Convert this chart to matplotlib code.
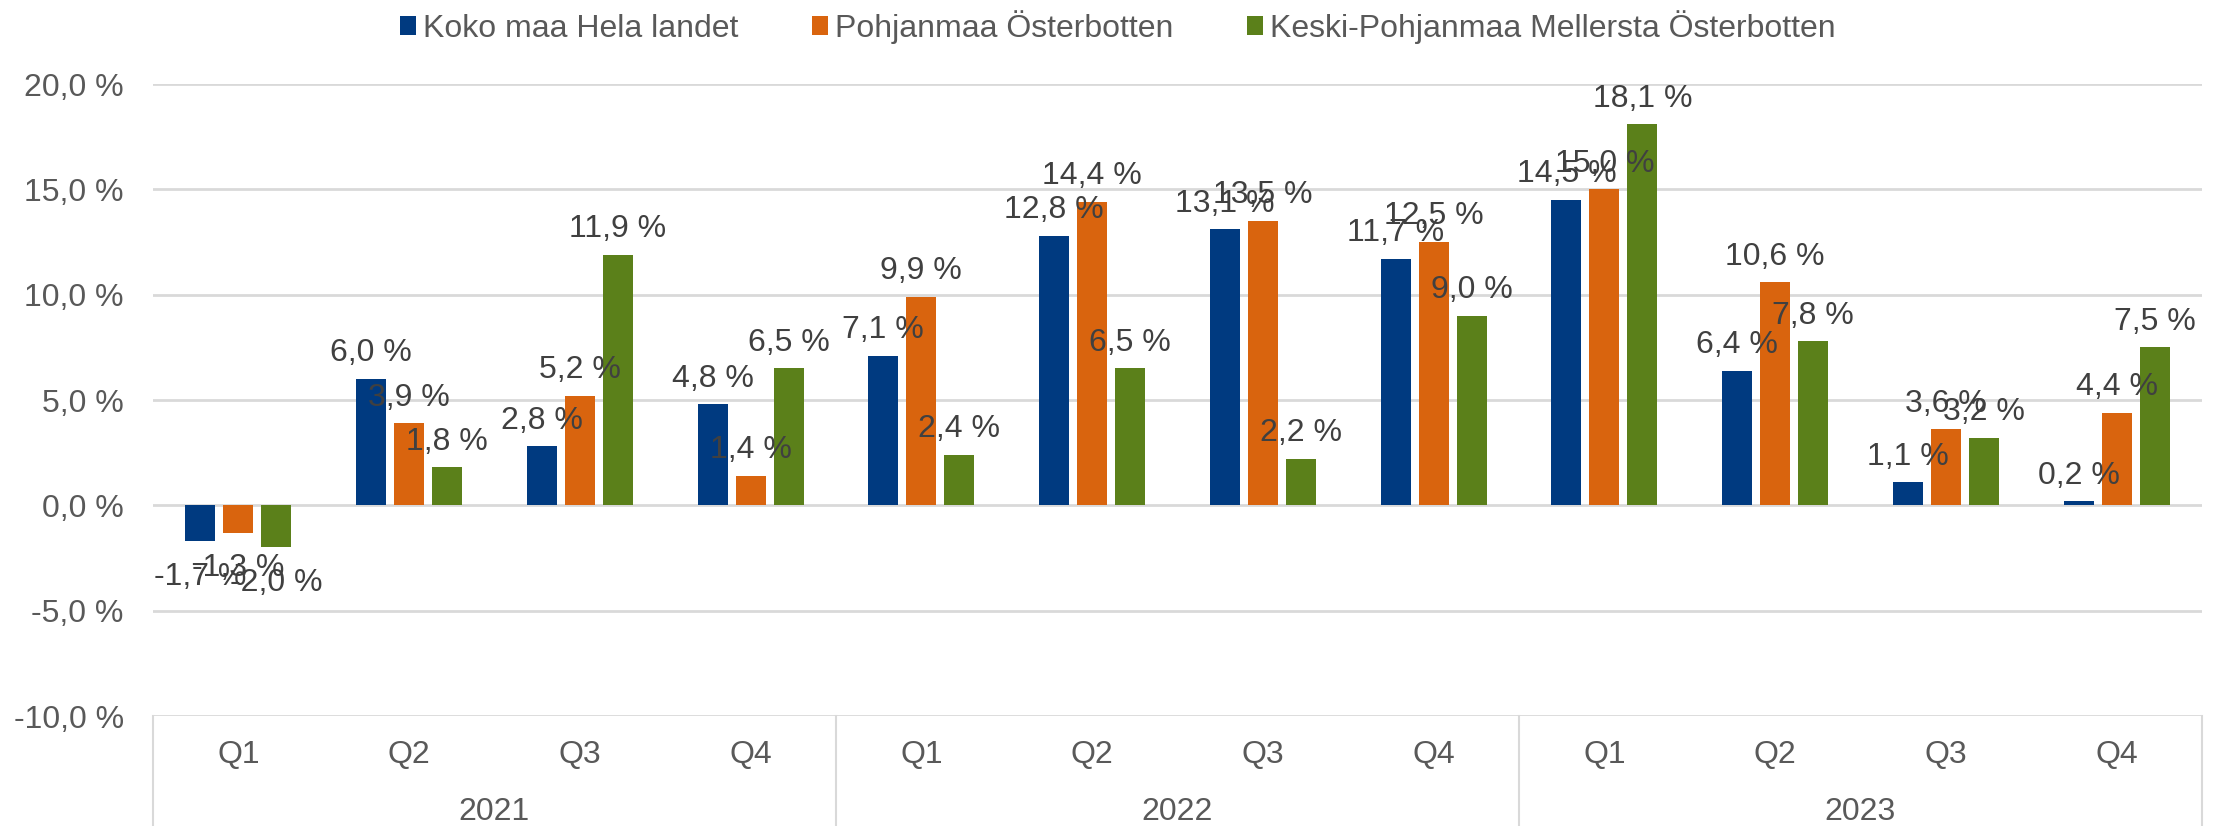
import matplotlib
matplotlib.use("Agg")
import matplotlib.pyplot as plt
import matplotlib.transforms as mtransforms
from matplotlib.patches import Patch
from matplotlib.lines import Line2D
import numpy as np

plt.rcParams['font.family'] = ['Liberation Sans', 'DejaVu Sans']

# ---- data ----
years = ["2021", "2022", "2023"]
quarters = ["Q1", "Q2", "Q3", "Q4"]
series_names = ["Koko maa Hela landet", "Pohjanmaa Österbotten",
                "Keski-Pohjanmaa Mellersta Österbotten"]
koko_maa = [-1.7, 6.0, 2.8, 4.8, 7.1, 12.8, 13.1, 11.7, 14.5, 6.4, 1.1, 0.2]
pohjanmaa = [-1.3, 3.9, 5.2, 1.4, 9.9, 14.4, 13.5, 12.5, 15.0, 10.6, 3.6, 4.4]
keski_pohjanmaa = [-2.0, 1.8, 11.9, 6.5, 2.4, 6.5, 2.2, 9.0, 18.1, 7.8, 3.2, 7.5]
y_ticks = [-10, -5, 0, 5, 10, 15, 20]

colors = ["#003A80", "#D9640E", "#5B801A"]
text_gray = "#595959"
label_gray = "#404040"
grid_gray = "#D9D9D9"

W, H = 2216, 826
fig = plt.figure(figsize=(W / 100, H / 100), dpi=100)
left, right, top, bottom = 153, 2202, 84, 716
ax = fig.add_axes([left / W, 1 - bottom / H, (right - left) / W, (bottom - top) / H])

n = len(years) * len(quarters)
x = np.arange(n)
step = 38 / 170.75
bw = 30 / 170.75
all_series = [koko_maa, pohjanmaa, keski_pohjanmaa]

for k, (vals, c) in enumerate(zip(all_series, colors)):
    xs = x + (k - 1) * step
    ax.bar(xs, vals, width=bw, color=c, zorder=3, linewidth=0)
    for xi, v in zip(xs, vals):
        lab = f"{v:.1f} %".replace(".", ",")
        if v >= 0:
            ax.annotate(lab, (xi, v), xytext=(0, 12.6), textcoords="offset points",
                        ha="center", va="baseline", fontsize=23, color=label_gray, zorder=5)
        else:
            ax.annotate(lab, (xi, v), xytext=(0, -31.5), textcoords="offset points",
                        ha="center", va="baseline", fontsize=23, color=label_gray, zorder=5)

ax.set_xlim(-0.5, n - 0.5)
ax.set_ylim(-10, 20)
ax.set_yticks(y_ticks)
ax.set_yticklabels([f"{t:.1f} %".replace(".", ",") for t in y_ticks], fontsize=23, color=text_gray)
ax.tick_params(axis="y", length=0, pad=21)
ax.set_xticks([])
for s in ax.spines.values():
    s.set_visible(False)
ax.yaxis.grid(True, color=grid_gray, linewidth=2.0, zorder=0)
ax.set_axisbelow(True)

# multi-level category axis
trans = mtransforms.blended_transform_factory(ax.transData, fig.transFigure)
for i in range(n):
    ax.text(i, 1 - 755 / H, quarters[i % 4], transform=trans, ha="center", va="center",
            fontsize=23, color=text_gray)
for j, yr in enumerate(years):
    ax.text(j * 4 + 1.5, 1 - 812 / H, yr, transform=trans, ha="center", va="center",
            fontsize=23, color=text_gray)
for xb in [-0.5, 3.5, 7.5, 11.5]:
    ax.add_line(Line2D([xb, xb], [1 - bottom / H, 0], transform=trans, color=grid_gray,
                       linewidth=1.5, clip_on=False))

handles = [Patch(facecolor=c, edgecolor="none") for c in colors]
fig.legend(handles, series_names, loc="center", bbox_to_anchor=(1118 / W, 1 - 27 / H),
           ncol=3, frameon=False, fontsize=23, handlelength=0.5, handleheight=0.5,
           handletextpad=0.22, columnspacing=2.3, labelcolor=text_gray)

fig.savefig("out.png", dpi=100)
